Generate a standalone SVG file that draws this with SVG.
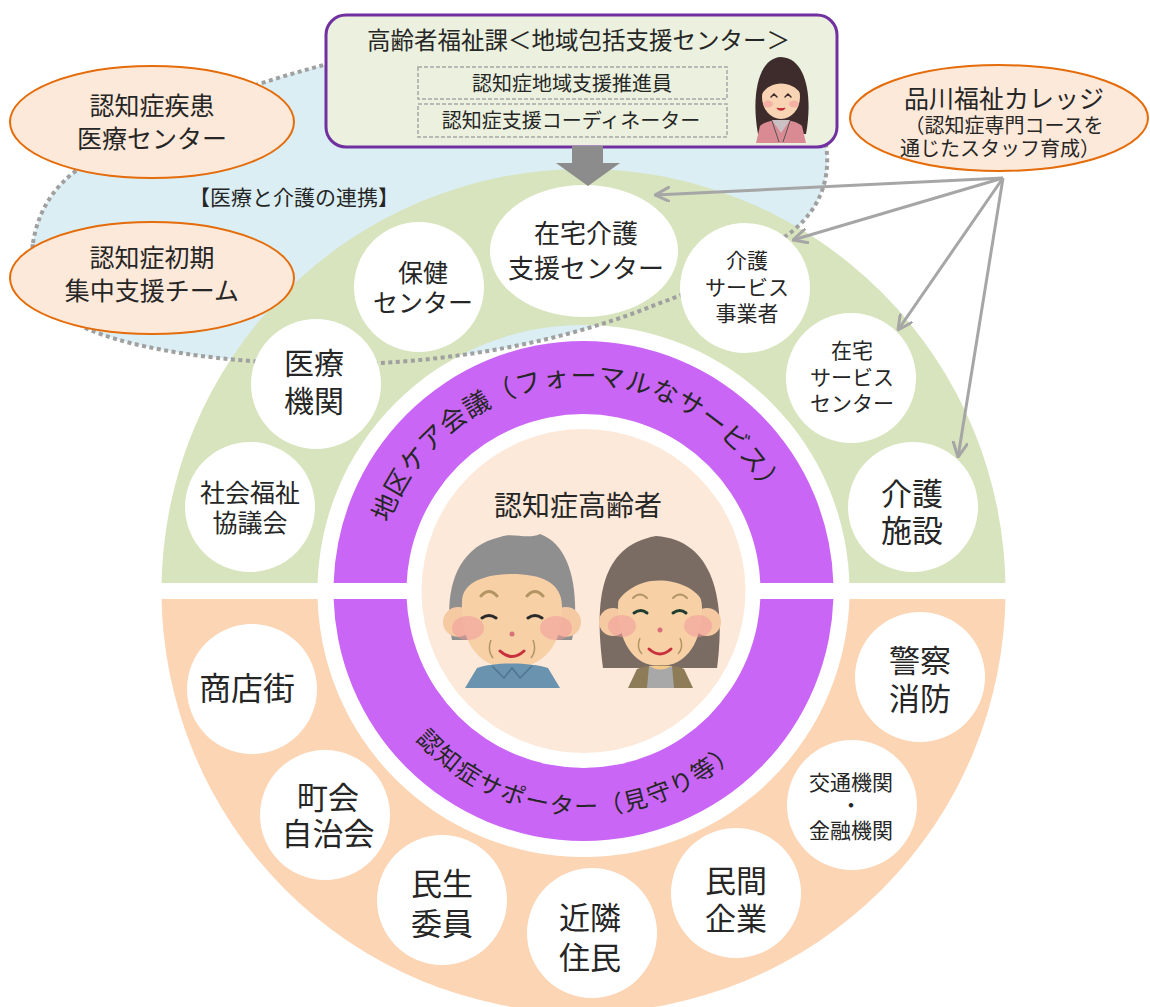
<svg xmlns="http://www.w3.org/2000/svg" width="1150" height="1007" viewBox="0 0 1150 1007">
  <style>
    text { font-family: "Noto Sans CJK JP", "Noto Sans", sans-serif; fill: #262626; text-anchor: middle; }
    .node { fill: #ffffff; }
    .oval { fill: #FDE9D9; stroke: #E46C0A; stroke-width: 2; }
    .dash { fill: none; stroke: #A6A6A6; stroke-width: 1.5; stroke-dasharray: 4 2; }
    .link { fill: none; stroke: #A6A6A6; stroke-width: 3; marker-end: url(#vhead); }
    .f20 { font-size: 20px; }
    .f21 { font-size: 21px; }
    .f25 { font-size: 25px; }
    .f26 { font-size: 26px; }
    .f30 { font-size: 30px; }
    .f31 { font-size: 31px; }
  </style>
  <defs>
    <clipPath id="upper"><rect x="0" y="0" width="1150" height="583"/></clipPath>
    <clipPath id="lower"><rect x="0" y="599" width="1150" height="408"/></clipPath>
    <marker id="vhead" viewBox="0 0 16 16" refX="15" refY="8" markerWidth="16" markerHeight="16" markerUnits="userSpaceOnUse" orient="auto">
      <path d="M1,1 L15,8 L1,15" fill="none" stroke="#A6A6A6" stroke-width="3" stroke-linecap="round" stroke-linejoin="round"/>
    </marker>
    <path id="arcTop" d="M377.5,591 A206,206 0 0 1 789.5,591"/>
    <path id="arcBottom" d="M359.5,591 A224,224 0 0 0 807.5,591"/>
    <path id="zoneShape" d="M33,243 C38,210 55,185 80,168 C140,125 230,90 320,66 C470,25 790,30 826,145 C832,185 815,218 780,240 C745,265 705,287 660,303 C570,340 470,358 380,363 C270,368 150,355 90,330 C50,312 28,278 33,243 Z"/>
    <path id="ringOuter" d="M161.5,591 a422,422 0 1 0 844,0 a422,422 0 1 0 -844,0 Z M317.5,591 a266,266 0 1 0 532,0 a266,266 0 1 0 -532,0 Z"/>
    <path id="ringInner" d="M333.5,591 a250,250 0 1 0 500,0 a250,250 0 1 0 -500,0 Z M406.5,591 a177,177 0 1 0 354,0 a177,177 0 1 0 -354,0 Z"/>
  </defs>

  <!-- medical / care collaboration zone -->
  <use id="zone-fill" href="#zoneShape" fill="#DAEEF3"/>

  <!-- outer ring: formal services (top) and community (bottom) -->
  <use href="#ringOuter" fill="#D7E4BD" fill-rule="evenodd" clip-path="url(#upper)"/>
  <use href="#ringOuter" fill="#FCD5B5" fill-rule="evenodd" clip-path="url(#lower)"/>

  <!-- dotted outline of the collaboration zone -->
  <use href="#zoneShape" fill="none" stroke="#A0A0A0" stroke-width="4" stroke-dasharray="4 3.5"/>

  <!-- service nodes -->
  <g id="node-zaitaku-kaigo-shien">
    <ellipse class="node" cx="584" cy="251" rx="94" ry="66"/>
    <text class="f26"><tspan x="586" y="243">在宅介護</tspan><tspan x="586" y="278">支援センター</tspan></text>
  </g>
  <g id="node-hoken">
    <circle class="node" cx="419" cy="287" r="65"/>
    <text class="f25"><tspan x="423" y="281.5">保健</tspan><tspan x="423" y="311.5">センター</tspan></text>
  </g>
  <g id="node-iryo-kikan">
    <circle class="node" cx="316" cy="384" r="65"/>
    <text class="f30"><tspan x="314" y="373.5">医療</tspan><tspan x="314" y="411.5">機関</tspan></text>
  </g>
  <g id="node-shakyo">
    <circle class="node" cx="250" cy="507" r="65"/>
    <text class="f25"><tspan x="250" y="501.5">社会福祉</tspan><tspan x="250" y="531.5">協議会</tspan></text>
  </g>
  <g id="node-kaigo-service">
    <circle class="node" cx="745" cy="288" r="65"/>
    <text class="f21"><tspan x="747" y="268">介護</tspan><tspan x="747" y="295">サービス</tspan><tspan x="747" y="321">事業者</tspan></text>
  </g>
  <g id="node-zaitaku-service">
    <circle class="node" cx="851" cy="378" r="65"/>
    <text class="f21"><tspan x="852" y="358">在宅</tspan><tspan x="852" y="385">サービス</tspan><tspan x="852" y="411">センター</tspan></text>
  </g>
  <g id="node-kaigo-shisetsu">
    <circle class="node" cx="913" cy="507" r="65"/>
    <text class="f31"><tspan x="912" y="505">介護</tspan><tspan x="912" y="542">施設</tspan></text>
  </g>
  <g id="node-keisatsu">
    <circle class="node" cx="920" cy="677" r="65"/>
    <text class="f31"><tspan x="920" y="672">警察</tspan><tspan x="920" y="710">消防</tspan></text>
  </g>
  <g id="node-kotsu-kinyu">
    <circle class="node" cx="852" cy="805" r="65"/>
    <text class="f21"><tspan x="851" y="790">交通機関</tspan><tspan x="851" y="813">・</tspan><tspan x="851" y="838">金融機関</tspan></text>
  </g>
  <g id="node-minkan">
    <circle class="node" cx="736" cy="893" r="65"/>
    <text class="f31"><tspan x="736" y="892">民間</tspan><tspan x="736" y="930">企業</tspan></text>
  </g>
  <g id="node-kinrin">
    <circle class="node" cx="592" cy="933" r="65"/>
    <text class="f31"><tspan x="590" y="929">近隣</tspan><tspan x="590" y="969">住民</tspan></text>
  </g>
  <g id="node-minsei">
    <circle class="node" cx="442" cy="900" r="65"/>
    <text class="f31"><tspan x="442" y="895">民生</tspan><tspan x="442" y="935">委員</tspan></text>
  </g>
  <g id="node-chokai">
    <circle class="node" cx="325" cy="815" r="65"/>
    <text class="f31"><tspan x="328" y="809">町会</tspan><tspan x="328" y="845">自治会</tspan></text>
  </g>
  <g id="node-shotengai">
    <circle class="node" cx="252" cy="689" r="65"/>
    <text x="247" y="700" font-size="32">商店街</text>
  </g>

  <!-- inner ring: care meeting / supporters -->
  <g id="ring-inner">
    <use href="#ringInner" fill="#CA66F6" fill-rule="evenodd" clip-path="url(#upper)"/>
    <use href="#ringInner" fill="#CA66F6" fill-rule="evenodd" clip-path="url(#lower)"/>
    <text font-size="26" letter-spacing="0.8"><textPath href="#arcTop" startOffset="48%">地区ケア会議（フォーマルなサービス）</textPath></text>
    <text font-size="24" letter-spacing="1.8"><textPath href="#arcBottom" startOffset="48.7%">認知症サポーター（見守り等）</textPath></text>
  </g>

  <!-- centre: the person with dementia -->
  <g id="node-center">
    <circle cx="583.5" cy="591" r="162" fill="#FDE9D9"/>
    <text x="578" y="515.5" font-size="28">認知症高齢者</text>
    <!-- elderly man -->
    <g id="old-man">
      <path d="M452,640 C444,598 452,548 500,537 C512,532 528,540 540,534 C574,546 580,600 572,640 Z" fill="#8F8F8F"/>
      <circle cx="458" cy="622" r="15" fill="#F5C9A2"/>
      <circle cx="566" cy="622" r="15" fill="#F5C9A2"/>
      <path d="M462,602 C462,580 490,574 512,574 C540,574 562,582 562,606 C564,642 545,668 512,668 C478,668 460,642 462,602 Z" fill="#F7D0A6"/>
      <ellipse cx="468" cy="628" rx="16" ry="12" fill="#F29A9A" opacity="0.55"/>
      <ellipse cx="556" cy="628" rx="16" ry="12" fill="#F29A9A" opacity="0.55"/>
      <path d="M481,596 q8,-9 16,0 M527,596 q8,-9 16,0" fill="none" stroke="#B39563" stroke-width="3" stroke-linecap="round"/>
      <path d="M482,618 q7,-5 14,0 M528,618 q7,-5 14,0" fill="none" stroke="#2A2A2A" stroke-width="3" stroke-linecap="round"/>
      <circle cx="512" cy="634" r="2.5" fill="#D9707A"/>
      <path d="M491,640 q-4,10 2,18 M533,640 q4,10 -2,18" fill="none" stroke="#B39563" stroke-width="1.5"/>
      <path d="M500,651 q12,11 24,0" fill="none" stroke="#C8303C" stroke-width="3" stroke-linecap="round"/>
      <path d="M465,688 L477,668 C494,662 530,662 548,668 L560,688 Z" fill="#6A93B0"/>
      <path d="M492,666 L504,678 L512,668 L520,678 L532,666" fill="none" stroke="#4D7590" stroke-width="1.5"/>
    </g>
    <!-- elderly woman -->
    <g id="old-woman">
      <path d="M603,668 C594,600 600,546 656,536 C714,540 726,600 717,668 Z" fill="#7A6B63"/>
      <circle cx="613" cy="622" r="14" fill="#F5C9A2"/>
      <circle cx="707" cy="622" r="14" fill="#F5C9A2"/>
      <path d="M618,606 C618,584 640,580 660,580 C684,580 702,586 702,608 C702,640 688,666 660,666 C632,666 618,640 618,606 Z" fill="#F7D0A6"/>
      <path d="M616,604 C618,570 640,556 660,556 C688,556 706,572 704,604 C694,582 660,576 640,584 C630,588 622,594 616,604 Z" fill="#7A6B63"/>
      <ellipse cx="622" cy="626" rx="14" ry="11" fill="#F29A9A" opacity="0.55"/>
      <ellipse cx="698" cy="626" rx="14" ry="11" fill="#F29A9A" opacity="0.55"/>
      <path d="M633,598 q7,-7 14,0 M673,598 q7,-7 14,0" fill="none" stroke="#B39563" stroke-width="2" stroke-linecap="round"/>
      <path d="M634,613 q7,-5 13,0 M673,613 q7,-5 13,0" fill="none" stroke="#1F3D2E" stroke-width="3" stroke-linecap="round"/>
      <circle cx="660" cy="630" r="2.5" fill="#D9707A"/>
      <path d="M640,638 q-4,10 2,16 M680,638 q4,10 -2,16" fill="none" stroke="#B39563" stroke-width="1.5"/>
      <path d="M649,649 q11,10 22,0" fill="none" stroke="#C8303C" stroke-width="3" stroke-linecap="round"/>
      <path d="M628,688 L637,669 C650,664 672,664 684,669 L693,688 Z" fill="#8E7B58"/>
      <path d="M647,688 L649,666 L672,666 L674,688 Z" fill="#A8A8A8"/>
      <path d="M649,666 q11,7 23,0 Z" fill="#F4C98A"/>
    </g>
  </g>

  <!-- partner organisations -->
  <g id="node-shikkan-center">
    <ellipse class="oval" cx="152" cy="122" rx="142" ry="56"/>
    <text class="f25"><tspan x="152" y="114.5">認知症疾患</tspan><tspan x="152" y="147.5">医療センター</tspan></text>
  </g>
  <g id="node-shoki-team">
    <ellipse class="oval" cx="152" cy="278" rx="142" ry="56"/>
    <text class="f25"><tspan x="152" y="266.5">認知症初期</tspan><tspan x="152" y="299.5">集中支援チーム</tspan></text>
  </g>
  <text id="label-renkei" x="294" y="205" font-size="21">【医療と介護の連携】</text>

  <!-- welfare section box -->
  <g id="node-korei-fukushi">
    <rect x="326" y="15" width="511" height="132" rx="20" fill="#EBF1DE" stroke="#7030A0" stroke-width="3"/>
    <text x="578.5" y="49" font-size="23.5">高齢者福祉課＜地域包括支援センター＞</text>
    <rect class="dash" x="418" y="67" width="309" height="32"/>
    <rect class="dash" x="418" y="104" width="309" height="33"/>
    <text class="f20" x="572" y="90.5">認知症地域支援推進員</text>
    <text class="f20" x="571" y="127.5">認知症支援コーディネーター</text>
    <g id="staff">
      <path d="M758,134 C751,96 758,58 781,57 C806,58 813,96 806,134 Z" fill="#3D2C2B"/>
      <ellipse cx="781" cy="97" rx="19" ry="22" fill="#F8D4B4"/>
      <path d="M762,94 C761,70 800,66 801,94 C792,80 770,80 762,94 Z" fill="#3D2C2B"/>
      <ellipse cx="768" cy="104" rx="5" ry="3.5" fill="#F29A9A" opacity="0.6"/>
      <ellipse cx="794" cy="104" rx="5" ry="3.5" fill="#F29A9A" opacity="0.6"/>
      <path d="M771,97 l3,-3 l3,3 M785,97 l3,-3 l3,3" fill="none" stroke="#3D2C2B" stroke-width="1.5" stroke-linecap="round"/>
      <path d="M777,108 q4,4 8,0" fill="#C8303C" stroke="#C8303C" stroke-width="1.5"/>
      <path d="M756,143 L760,126 C768,118 794,118 802,126 L806,143 Z" fill="#D98A93"/>
      <path d="M772,120 L781,133 L790,120 Z" fill="#C9C1C3"/>
      <path d="M772,121 L779,142 M790,121 L783,142" stroke="#555555" stroke-width="1"/>
    </g>
  </g>

  <!-- staff training college -->
  <g id="node-college">
    <ellipse class="oval" cx="999" cy="118" rx="149" ry="53"/>
    <text><tspan x="1004" y="107.5" font-size="25">品川福祉カレッジ</tspan><tspan x="1004" y="132.5" font-size="20">（認知症専門コースを</tspan><tspan x="1000" y="155.5" font-size="20">通じたスタッフ育成）</tspan></text>
  </g>

  <!-- connectors -->
  <g id="connectors">
    <path d="M572,146 H603 V163 H620 L588,186 L556,163 H572 Z" fill="#8C8C8C"/>
    <path class="link" d="M1003,178 L655,195"/>
    <path class="link" d="M1003,178 L793,240"/>
    <path class="link" d="M1003,178 L898,330"/>
    <path class="link" d="M1003,178 L958,457"/>
  </g>
</svg>
